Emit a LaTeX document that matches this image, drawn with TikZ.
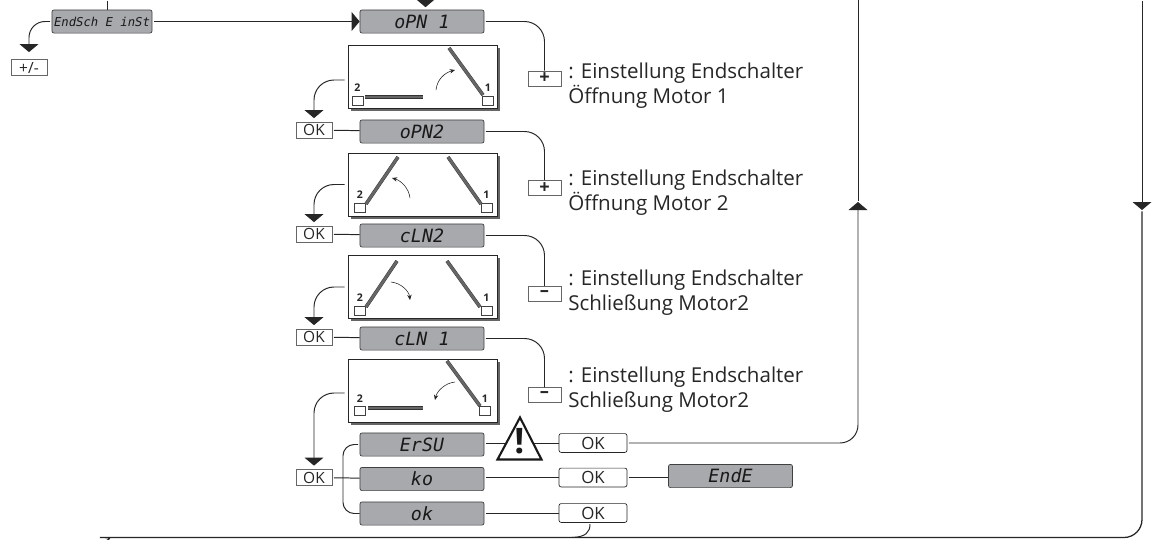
\documentclass[tikz,border=0pt]{standalone}
\usepackage{fontspec}
\setmainfont{Open Sans}
\newfontfamily\lcdfont{DejaVu Sans Mono}
\usetikzlibrary{arrows.meta, shadows}
\definecolor{lcdgray}{RGB}{167,169,172}
\tikzset{
	display/.style={draw=black!75, fill=lcdgray, rounded corners=1.5pt, line width=0.5pt, minimum width=3.1cm, minimum height=0.58cm, inner sep=0pt, font=\lcdfont\itshape\fontsize{13}{13}\selectfont, text=black!90},
	button/.style={draw=black!60, fill=white, line width=0.5pt, minimum width=0.9cm, minimum height=0.4cm, inner sep=0pt, font=\fontsize{11}{11}\selectfont, text=black!85},
	okbutton/.style={draw=black!85, fill=white, rounded corners=1.5pt, line width=0.5pt, minimum width=1.7cm, minimum height=0.47cm, inner sep=0pt, font=\fontsize{12}{12}\selectfont, text=black!85},
	signbutton/.style={button, minimum width=0.83cm, minimum height=0.37cm, font=\bfseries\fontsize{13}{13}\selectfont},
	scenebox/.style={draw=black!85, fill=white, line width=0.5pt, minimum width=3.725cm, minimum height=1.58cm, inner sep=0pt, drop shadow={shadow xshift=0.07cm, shadow yshift=-0.07cm, fill=black!60, opacity=1}},
	motorbox/.style={draw=black!75, fill=white, line width=0.35pt, minimum width=0.28cm, minimum height=0.22cm, inner sep=0pt},
	motornum/.style={font=\bfseries\fontsize{7.5}{7.5}\selectfont, inner sep=0pt, text=black!85},
	leaf/.style={draw=black!80, line width=0.3pt, double=black!60, double distance=1.9pt},
	swing/.style={-{Stealth[length=0.13cm,width=0.11cm]}, line width=0.4pt, black!85},
	flowline/.style={line width=0.7pt, black!85, shorten <=1pt},
	flowtip/.style={flowline, -{Triangle[length=0.2cm,width=0.47cm]}},
	hint/.style={anchor=west, align=left, inner sep=0pt, font=\fontsize{14.6}{17.6}\selectfont, text=black!85},
}

\begin{document}
\begin{tikzpicture}[x=0.025cm, y=-0.025cm]
	\useasboundingbox (0,0) rectangle (1160,540);
	% displays
	\node[display, minimum width=2.5cm, font=\lcdfont\itshape\fontsize{8.7}{8.7}\selectfont] (endsch) at (102,21.5) {EndSch E inSt};
	\node[display] (opna) at (422,21.5) {oPN 1};
	\node[display] (opnb) at (422,131.5) {oPN2};
	\node[display] (clnb) at (422,235.5) {cLN2};
	\node[display] (clna) at (422,338.5) {cLN 1};
	\node[display] (ersu) at (422,444.5) {ErSU};
	\node[display] (ko) at (422,479) {ko};
	\node[display] (ok) at (422,513.5) {ok};
	\node[display] (ende) at (730.5,476) {EndE};
	% buttons
	\node[button] (plusminus) at (29,67.5) {+/-};
	\node[button] (oka) at (314,130) {OK};
	\node[button] (okb) at (314,234) {OK};
	\node[button] (okc) at (314,337) {OK};
	\node[button] (okd) at (314,477.5) {OK};
	\node[okbutton] (okersu) at (593,443) {OK};
	\node[okbutton] (okko) at (593,477.5) {OK};
	\node[okbutton] (okok) at (593,513) {OK};
	\node[signbutton] (plusa) at (544.5,78.5) {+};
	\node[signbutton] (plusb) at (544.5,188) {+};
	\node[signbutton] (minusa) at (544.5,293.5) {--};
	\node[signbutton] (minusb) at (544.5,395) {--};
	% hints
	\node[hint] (hinta) at (568,85.5) {: Einstellung Endschalter\\Öffnung Motor 1};
	\node[hint] (hintb) at (568,192.5) {: Einstellung Endschalter\\Öffnung Motor 2};
	\node[hint] (hintc) at (568,293) {: Einstellung Endschalter\\Schließung Motor2};
	\node[hint] (hintd) at (568,390) {: Einstellung Endschalter\\Schließung Motor2};
	% scenes
	\node[scenebox] (scenea) at (422.5,77) {};
	\node[scenebox] (sceneb) at (422.5,184.5) {};
	\node[scenebox] (scenec) at (422.5,287) {};
	\node[scenebox] (scened) at (422.5,390.5) {};
	\foreach \scn/\xt/\xo/\y in {a/357.5/488/100.5,b/360/486.5/207.5,c/360/486.5/310.5,d/360/485/411} {
		\node[motorbox] (two\scn) at (\xt,\y) {};
		\node[motorbox] (one\scn) at (\xo,\y) {};
		\node[motornum] (numtwo\scn) at (\xt,\y-12.5) {2};
		\node[motornum] (numone\scn) at (\xo,\y-12.5) {1};
	}
	\draw[leaf] (483,95) -- (449,48);
	\draw[leaf] (365,97) -- (423,97);
	\draw[swing] (436,90) .. controls (437,80) and (444,73) .. (455,70);
	\draw[leaf] (366,204) -- (398,157);
	\draw[leaf] (481,204) -- (448,157);
	\draw[swing] (410,198) .. controls (409,189) and (402,181) .. (392,178);
	\draw[leaf] (366,307) -- (397,261);
	\draw[leaf] (480,307) -- (447,261);
	\draw[swing] (391,282) .. controls (401,283) and (409,291) .. (410,300);
	\draw[leaf] (480,406) -- (447,361);
	\draw[leaf] (368,408) -- (423,408);
	\draw[swing] (455,382) .. controls (445,383) and (437,391) .. (435,400);
	% arrows
	\coordinate (topcable) at (107,0);
	\coordinate (topin) at (425.5,-2);
	\coordinate (sceneaout) at (346,80);
	\coordinate (scenebout) at (346,184.5);
	\coordinate (scenecout) at (346,287);
	\coordinate (scenedout) at (346,393);
	\draw[flowline] (topcable) -- (107,10);
	\draw[flowtip, shorten >=2pt] (topin) -- (425.5,10);
	\draw[flowtip] (endsch) -- (opna);
	\draw[flowtip, rounded corners=0.4cm, shorten >=5pt] (endsch.west) -| (plusminus.north);
	\draw[flowtip, rounded corners=0.5cm, shorten >=2.5pt] (sceneaout) -| (oka.north);
	\draw[flowtip, rounded corners=0.5cm, shorten >=2.5pt] (scenebout) -| (okb.north);
	\draw[flowtip, rounded corners=0.5cm, shorten >=2.5pt] (scenecout) -| (okc.north);
	\draw[flowtip, rounded corners=0.5cm, shorten >=2.5pt] (scenedout) -| (okd.north);
	\draw[flowline] (oka) -- (opnb);
	\draw[flowline] (okb) -- (clnb);
	\draw[flowline] (okc) -- (clna);
	\draw[flowline] (okd) -- (ko);
	\draw[flowline, rounded corners=0.5cm] (opna.east) -| (plusa.north);
	\draw[flowline, rounded corners=0.5cm] (opnb.east) -| (plusb.north);
	\draw[flowline, rounded corners=0.5cm] (clnb.east) -| (minusa.north);
	\draw[flowline, rounded corners=0.5cm] (clna.east) -| (minusb.north);
	\draw[flowline, rounded corners=0.28cm] (ersu.west) -| (343,478) |- (ok.west);
	\draw[flowline] (ersu.east |- okersu) -- (okersu);
	\draw[flowline] (ko.east |- okko) -- (okko);
	\draw[flowline] (okko) -- (ende.west |- okko);
	\draw[flowline] (ok.east |- okok) -- (okok);
	% long return lines
	\coordinate (upmid) at (858,202);
	\coordinate (downmid) at (1142,210);
	\draw[flowtip, rounded corners=0.45cm] (okersu.east) -| (upmid);
	\draw[flowline] (upmid) -- (858,0);
	\draw[flowtip] (1142,0) -- (downmid);
	\draw[flowline, line width=0.9pt, rounded corners=0.45cm] (downmid) |- (118,537.5) .. controls (113,537.5) and (110,538.5) .. (106,541);
	\draw[flowline] ([xshift=-0.075cm]okok.south) .. controls (590,532) and (586,537) .. (572,537.5);
	% warning sign
	\draw[fill=white, draw=black!90, line width=1.5pt, line join=miter] (497.5,459.5) -- (520,417.5) -- (541.5,459.5) -- cycle;
	\node[inner sep=0pt, font=\bfseries\fontsize{25}{25}\selectfont, text=black!90] (warnmark) at (519.5,441) {!};
\end{tikzpicture}
\end{document}
